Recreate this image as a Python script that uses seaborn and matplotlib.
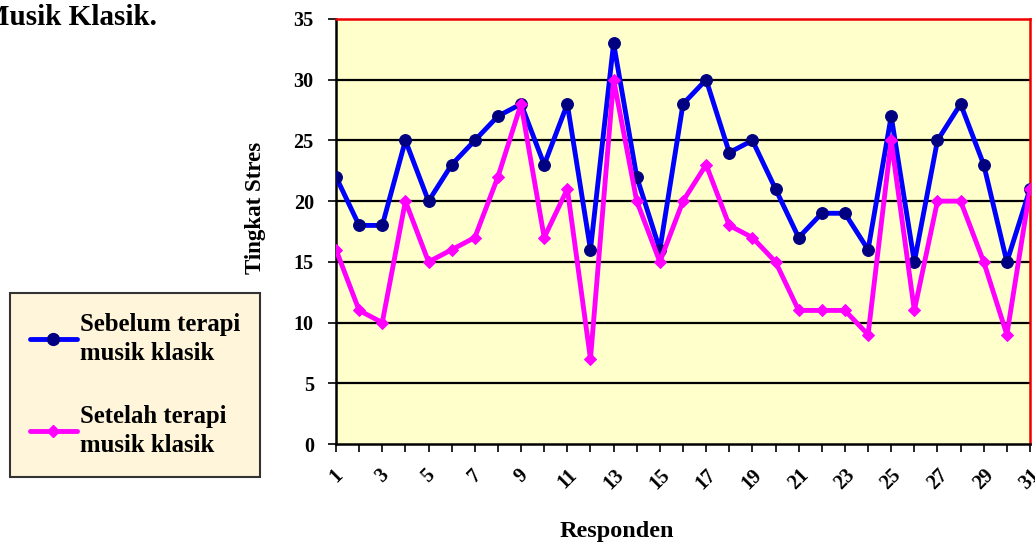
import matplotlib
matplotlib.use("Agg")
import matplotlib.pyplot as plt
import seaborn as sns
import pandas as pd
import numpy as np
from matplotlib.lines import Line2D

responden = list(range(1, 32))
sebelum = [22, 18, 18, 25, 20, 23, 25, 27, 28, 23, 28, 16, 33, 22, 16, 28,
           30, 24, 25, 21, 17, 19, 19, 16, 27, 15, 25, 28, 23, 15, 21]
setelah = [16, 11, 10, 20, 15, 16, 17, 22, 28, 17, 21, 7, 30, 20, 15, 20,
           23, 18, 17, 15, 11, 11, 11, 9, 25, 11, 20, 20, 15, 9, 21]
label_sebelum = "Sebelum terapi\nmusik klasik"
label_setelah = "Setelah terapi\nmusik klasik"
y_ticks = [0, 5, 10, 15, 20, 25, 30, 35]

sns.set_theme(style="white")
plt.rcParams['font.family'] = ['Liberation Serif', 'DejaVu Serif']
plt.rcParams['font.weight'] = 'bold'
for k in ['text.color', 'axes.labelcolor', 'xtick.color', 'ytick.color']:
    plt.rcParams[k] = 'black'

W, H = 1035, 543
fig = plt.figure(figsize=(W / 100, H / 100), dpi=100)
ax = fig.add_axes([336 / W, (H - 444) / H, 694 / W, 425 / H])
ax.set_facecolor('#FFFFCC')

df = pd.DataFrame({"Responden": responden, "Sebelum": sebelum, "Setelah": setelah})

sns.lineplot(data=df, x="Responden", y="Sebelum", ax=ax, color='#0000FF',
             linewidth=3.5, marker='o', markersize=8.5, markerfacecolor='#000080',
             markeredgecolor='#000080', zorder=3)
sns.lineplot(data=df, x="Responden", y="Setelah", ax=ax, color='#FF00FF',
             linewidth=3.5, marker='D', markersize=6, markerfacecolor='#FF00FF',
             markeredgecolor='#FF00FF', zorder=4)

ax.set_xlim(1, 31)
ax.set_ylim(0, 35)
ax.set_yticks(y_ticks)
ax.set_yticklabels([str(v) for v in y_ticks], fontsize=14.5, fontweight='bold')
ax.set_xticks(responden)
ax.set_xticklabels([str(v) if v % 2 == 1 else "" for v in responden],
                   rotation=45, ha='center', va='top', fontsize=14.5, fontweight='bold')
ax.tick_params(axis='both', which='both', direction='out', length=6, width=1.2,
               color='black', bottom=True, left=True)
ax.tick_params(axis='y', pad=10)
ax.tick_params(axis='x', pad=9)

for y in y_ticks[1:-1]:
    ax.axhline(y, color='black', linewidth=1.6, zorder=1)

for s in ['top', 'right']:
    ax.spines[s].set_color('#EE0000')
    ax.spines[s].set_linewidth(1.8)
for s in ['left', 'bottom']:
    ax.spines[s].set_color('black')
    ax.spines[s].set_linewidth(1.8)
ax.spines['top'].set_zorder(5)

ax.set_xlabel("")
ax.set_ylabel("")
fig.text(256 / W, 1 - 208 / H, "Tingkat Stres", fontsize=16.5, fontweight='bold',
         rotation=90, ha='center', va='center')
fig.text(617 / W, 1 - 532 / H, "Responden", fontsize=17.5, fontweight='bold',
         ha='center', va='center')

fig.text(-18 / W, 1 - 25 / H, "Musik Klasik.", fontsize=21, fontweight='bold',
         ha='left', va='baseline')

handles = [
    Line2D([0], [0], color='#0000FF', linewidth=3.5, marker='o', markersize=8.5,
           markerfacecolor='#000080', markeredgecolor='#000080'),
    Line2D([0], [0], color='#FF00FF', linewidth=3.5, marker='D', markersize=6,
           markerfacecolor='#FF00FF', markeredgecolor='#FF00FF'),
]
leg = fig.legend(handles, [label_sebelum, label_setelah], loc='upper left',
                 bbox_to_anchor=(10 / W, 1 - 293 / H), frameon=True, fancybox=False,
                 prop={'family': 'Liberation Serif', 'weight': 'bold', 'size': 17.8},
                 handlelength=1.9, handletextpad=0.12, labelspacing=1.6,
                 borderpad=0.8, borderaxespad=0)
for t in leg.get_texts():
    t.set_linespacing(1.35)
frame = leg.get_frame()
frame.set_facecolor('#FFF5DA')
frame.set_edgecolor('#333333')
frame.set_linewidth(1.5)
frame.set_alpha(1)

fig.savefig("out.png", dpi=100)
